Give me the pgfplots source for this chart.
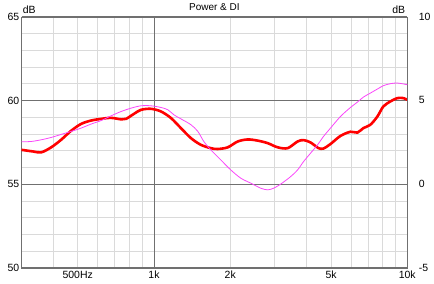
\documentclass[border=0pt]{standalone}
\usepackage{pgfplots}
\pgfplotsset{compat=1.18}
\usepackage{fontspec}
\setmainfont{Liberation Sans}
\definecolor{gridlight}{RGB}{218,218,218}
\definecolor{griddark}{RGB}{112,112,112}
\definecolor{dimag}{RGB}{250,70,250}
\begin{document}
\begin{tikzpicture}
\begin{axis}[
  width=385.5bp, height=251bp, scale only axis,
  xmode=log, xmin=300, xmax=10000,
  major tick length=0pt, minor tick length=0pt,
  tick label style={font=\fontsize{10.5}{12}\selectfont, text=black},
  /pgf/number format/assume math mode=true,
  ymin=50, ymax=65,
  axis line style={griddark},
  xtick={500,1000,2000,5000,10000},
  xticklabels={500Hz,1k,2k,5k,10k},
  minor xtick={400,500,600,700,800,900,2000,3000,4000,5000,6000,7000,8000,9000},
  xminorgrids=true,
  extra x ticks={1000},
  extra x tick labels={},
  extra x tick style={xmajorgrids=true},
  ytick={50,55,60,65},
  yticklabels={50,55,60,65},
  minor ytick={51,52,53,54,56,57,58,59,61,62,63,64},
  ymajorgrids=true, yminorgrids=true,
  major grid style={griddark, line width=0.8bp},
  minor grid style={gridlight, line width=0.8bp},
  xticklabel style={yshift=0bp},
  yticklabel style={xshift=1.3bp},
  clip=false,
]
\coordinate (sw) at (rel axis cs:0,0);
\coordinate (ne) at (rel axis cs:1,1);
\node[anchor=base, inner sep=0pt, yshift=6.3bp, font=\fontsize{10}{12}\selectfont] at (rel axis cs:0.5,1) {Power \& DI};
\node[anchor=base west, inner sep=0pt, xshift=1.2bp, yshift=3.7bp, font=\fontsize{10.5}{12}\selectfont] at (rel axis cs:0,1) {dB};
\node[anchor=base east, inner sep=0pt, xshift=-2bp, yshift=3.7bp, font=\fontsize{10.5}{12}\selectfont] at (rel axis cs:1,1) {dB};
\addplot[red, line width=2.6bp, smooth, tension=0.5] coordinates {
(300,57.05) (334,56.95) (359,56.9) (393,57.2) (430,57.65) (471,58.19)
(516,58.6) (565,58.8) (619,58.9) (677,58.96) (742,58.87) (776,58.9)
(834,59.2) (889,59.44) (973,59.5) (1066,59.34) (1167,58.95) (1277,58.35)
(1399,57.75) (1531,57.35) (1676,57.15) (1786,57.1) (1956,57.2) (2142,57.55)
(2345,57.67) (2567,57.6) (2811,57.45) (3078,57.2) (3370,57.15) (3690,57.55)
(3896,57.63) (4151,57.49) (4463,57.15) (4670,57.13) (4977,57.4) (5447,57.88)
(5966,58.13) (6356,58.08) (6712,58.35) (7152,58.55) (7620,59.04) (8044,59.64)
(8575,59.94) (9134,60.14) (9645,60.14) (10000,60.04)
};
\end{axis}
\begin{axis}[
  width=385.5bp, height=251bp, scale only axis,
  xmode=log, xmin=300, xmax=10000,
  major tick length=0pt, minor tick length=0pt,
  tick label style={font=\fontsize{10.5}{12}\selectfont, text=black},
  /pgf/number format/assume math mode=true,
  ymin=-5, ymax=10,
  axis y line*=right, axis x line=none,
  axis line style={griddark},
  ytick={-5,0,5,10},
  yticklabels={-5,0,5,10},
  yticklabel style={anchor=west, xshift=8bp},
]
\addplot[dimag, line width=0.8bp, smooth, tension=0.5] coordinates {
(300,2.53) (328,2.55) (359,2.65) (393,2.79) (430,2.97) (471,3.15)
(516,3.35) (565,3.59) (619,3.8) (677,4.08) (742,4.34) (812,4.54)
(889,4.68) (973,4.68) (1066,4.58) (1135,4.44) (1199,4.14) (1277,3.9)
(1399,3.55) (1490,3.15) (1573,2.55) (1676,2.05) (1835,1.45) (2010,0.85)
(2200,0.36) (2410,0.06) (2638,-0.24) (2811,-0.34) (2968,-0.24) (3162,0.0)
(3463,0.45) (3690,0.85) (3896,1.35) (4151,1.85) (4423,2.35) (4670,2.85)
(4977,3.35) (5447,4.04) (5966,4.58) (6356,4.9) (6712,5.2) (7152,5.44)
(7620,5.68) (8044,5.88) (8575,6.0) (9134,6.04) (10000,5.94)
};
\end{axis}
\pgfresetboundingbox
\path[use as bounding box] ([xshift=-21.5bp,yshift=-16bp]sw) rectangle ([xshift=26.7bp,yshift=16.7bp]ne);
\end{tikzpicture}
\end{document}
